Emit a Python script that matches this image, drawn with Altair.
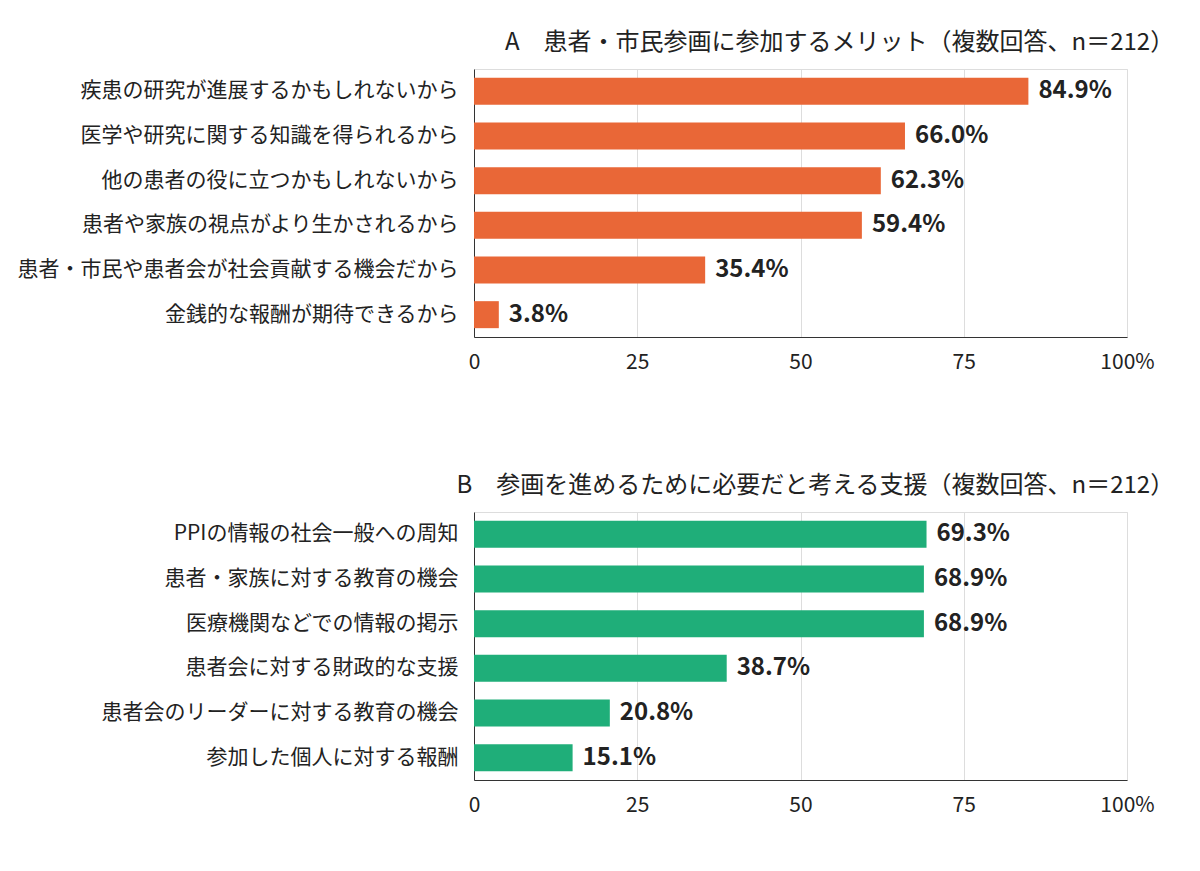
import altair as alt
import pandas as pd

cats_a = ["疾患の研究が進展するかもしれないから","医学や研究に関する知識を得られるから","他の患者の役に立つかもしれないから","患者や家族の視点がより生かされるから","患者・市民や患者会が社会貢献する機会だから","金銭的な報酬が期待できるから"]
vals_a = [84.9,66.0,62.3,59.4,35.4,3.8]
cats_b = ["PPIの情報の社会一般への周知","患者・家族に対する教育の機会","医療機関などでの情報の掲示","患者会に対する財政的な支援","患者会のリーダーに対する教育の機会","参加した個人に対する報酬"]
vals_b = [69.3,68.9,68.9,38.7,20.8,15.1]
FONT = "Noto Sans CJK JP"

def panel(cats, vals, color, title):
    df = pd.DataFrame({"c": cats, "v": vals, "t": [f"{v:.1f}%" for v in vals]})
    y = alt.Y("c:N", sort=cats, title=None,
              axis=alt.Axis(ticks=False, domain=True, domainColor="#333", labelFontSize=21,
                            labelColor="#222", labelPadding=16, labelLimit=700, grid=False, labelFont=FONT))
    x = alt.X("v:Q", scale=alt.Scale(domain=[0, 100]), title=None,
              axis=alt.Axis(values=[0,25,50,75,100], labelExpr="datum.value==100?'100%':datum.label",
                            ticks=False, grid=True, gridColor="#ddd", domainColor="#333",
                            labelFontSize=21, labelColor="#222", labelPadding=14, labelFont=FONT,
                            labelFlush=False))
    bars = alt.Chart(df).mark_bar(color=color, size=27).encode(x=x, y=y)
    text = alt.Chart(df).mark_text(align="left", dx=10, fontSize=24, fontWeight="bold", color="#222", font=FONT).encode(
        x="v:Q", y=alt.Y("c:N", sort=cats), text="t:N")
    return (bars + text).properties(width=653, height=268,
        title=alt.TitleParams(title, anchor="end", dx=20, fontSize=24, fontWeight="normal",
                              color="#222", font=FONT, offset=14))

a = panel(cats_a, vals_a, "#E96737", "A　患者・市民参画に参加するメリット（複数回答、n＝212）")
b = panel(cats_b, vals_b, "#1FAE79", "B　参画を進めるために必要だと考える支援（複数回答、n＝212）")
chart = alt.vconcat(a, b, spacing=100).configure_view(stroke=None).configure(font=FONT).properties(
    padding={"top": 22, "left": 8, "right": 5, "bottom": 5})
chart.save("out.html", embed_options={"renderer": "svg", "actions": False})
